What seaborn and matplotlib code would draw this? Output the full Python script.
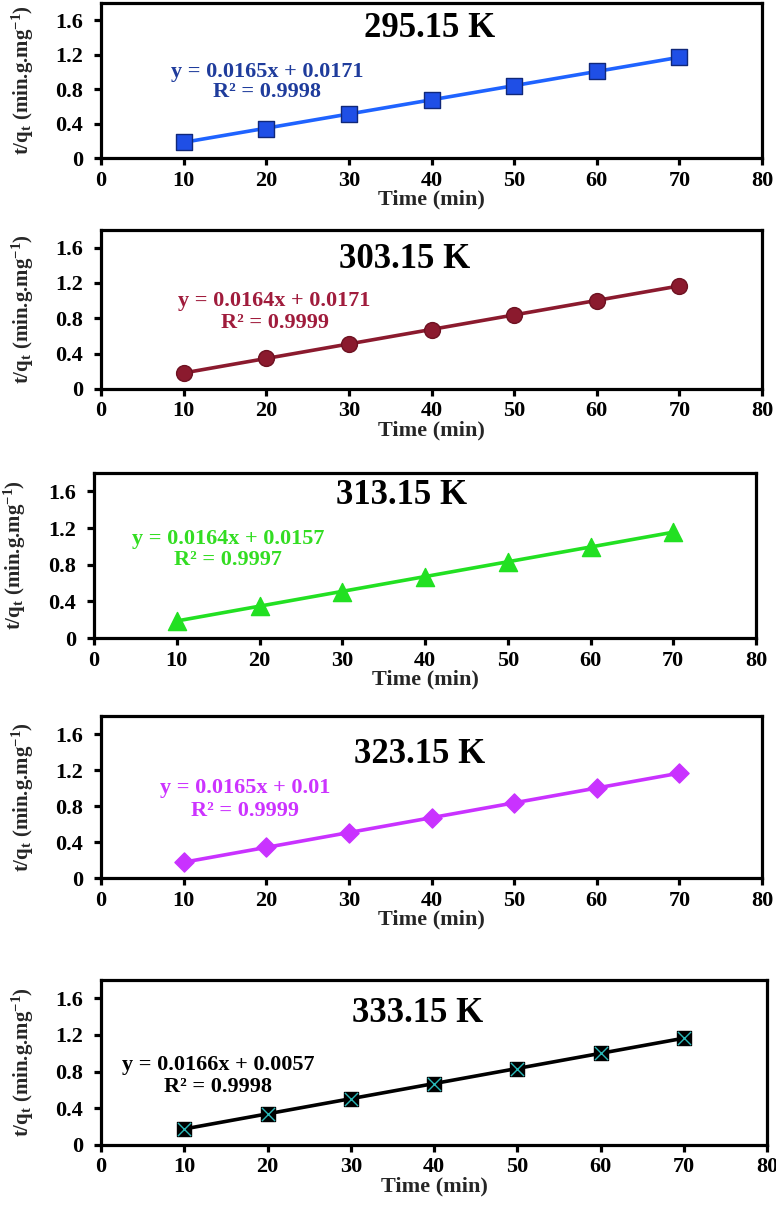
import numpy as np
import pandas as pd
import seaborn as sns
import matplotlib
matplotlib.use("Agg")
import matplotlib.pyplot as plt

# ---- data ----
time_min = [10, 20, 30, 40, 50, 60, 70]
tq_295 = [0.19, 0.34, 0.51, 0.67, 0.84, 1.01, 1.17]
tq_303 = [0.18, 0.35, 0.51, 0.67, 0.84, 1.00, 1.17]
tq_313 = [0.19, 0.35, 0.50, 0.67, 0.83, 0.99, 1.16]
tq_323 = [0.18, 0.34, 0.50, 0.67, 0.83, 1.00, 1.17]
tq_333 = [0.18, 0.34, 0.50, 0.67, 0.83, 1.00, 1.17]
temperatures = ["295.15 K", "303.15 K", "313.15 K", "323.15 K", "333.15 K"]
equations = ["y = 0.0165x + 0.0171", "y = 0.0164x + 0.0171", "y = 0.0164x + 0.0157",
             "y = 0.0165x + 0.01", "y = 0.0166x + 0.0057"]
r2_labels = ["R² = 0.9998", "R² = 0.9999", "R² = 0.9997", "R² = 0.9999", "R² = 0.9998"]
x_ticks = [0, 10, 20, 30, 40, 50, 60, 70, 80]
y_ticks = [0, 0.4, 0.8, 1.2, 1.6]
y_tick_labels = ["0", "0.4", "0.8", "1.2", "1.6"]

series = [tq_295, tq_303, tq_313, tq_323, tq_333]

sns.set_style("ticks")
plt.rcParams["font.family"] = ["Liberation Serif", "DejaVu Serif"]
plt.rcParams["font.weight"] = "bold"
plt.rcParams["mathtext.fontset"] = "custom"
plt.rcParams["mathtext.rm"] = "Liberation Serif:bold"
plt.rcParams["mathtext.bf"] = "Liberation Serif:bold"
plt.rcParams["mathtext.it"] = "Liberation Serif:bold"

line_colors = ["#1f63ff", "#8b1a2e", "#22e022", "#c932ff", "#000000"]
marker_fill = ["#1f4fe6", "#8b1a2e", "#22e022", "#c932ff", "#000000"]
marker_edge = ["#10287a", "#6e1222", "#22e022", "#c932ff", "#000000"]
text_colors = ["#1f3c9c", "#a01c3c", "#33dd22", "#cc33ff", "#000000"]
markers = ["s", "o", "^", "D", "s"]
msizes = [130, 130, 170, 95, 100]

# axes rectangles in pixels: left, right, top, bottom
W, H = 776, 1206
rects = [(101, 762, 3, 158), (101, 762, 230, 389), (94, 756, 473, 638),
         (101, 762, 716, 878), (101, 767, 980, 1145)]
ylabel_right_px = [36, 36, 28, 36, 36]
title_pos = [(39.8, 1.50), (36.7, 1.47), (37.2, 1.55), (38.6, 1.37), (38.0, 1.43)]
eq_pos = [(20.1, 1.00, 0.77), (21.0, 1.00, 0.75), (16.2, 1.08, 0.85),
          (17.4, 1.00, 0.75), (14.1, 0.87, 0.63)]

fig = plt.figure(figsize=(W / 100, H / 100), dpi=100)

for i in range(5):
    l, r, t, b = rects[i]
    ax = fig.add_axes([l / W, 1 - b / H, (r - l) / W, (b - t) / H])
    df = pd.DataFrame({"time": time_min, "tq": series[i]})
    sns.regplot(data=df, x="time", y="tq", ax=ax, scatter=False, ci=None,
                truncate=True, line_kws=dict(color=line_colors[i], lw=2.6, zorder=2))
    sns.scatterplot(data=df, x="time", y="tq", ax=ax, marker=markers[i], s=msizes[i],
                    color=marker_fill[i], edgecolor=marker_edge[i], linewidth=1.0,
                    zorder=3, legend=False)
    if i == 4:
        sns.scatterplot(data=df, x="time", y="tq", ax=ax, marker="x", s=90,
                        color="#2ab8b8", linewidth=1.0, zorder=4, legend=False)
    ax.set_xlim(0, 80)
    ax.set_ylim(0, 1.8)
    ax.set_xticks(x_ticks)
    ax.set_xticklabels([str(v) for v in x_ticks])
    ax.set_yticks(y_ticks)
    ax.set_yticklabels(y_tick_labels)
    for sp in ax.spines.values():
        sp.set_visible(True)
        sp.set_linewidth(2.3)
        sp.set_color("black")
    ax.tick_params(axis="both", direction="out", length=5, width=2.3,
                   labelsize=16, colors="black")
    ax.tick_params(axis="x", pad=4)
    ax.tick_params(axis="y", pad=8)
    for lab in ax.get_xticklabels() + ax.get_yticklabels():
        lab.set_fontweight("bold")
    ax.set_xlabel("Time (min)", fontsize=16, fontweight="bold", labelpad=-1)
    ax.set_ylabel(r"t/q$_{\mathbf{t}}$ (min.g.mg$^{\mathbf{-1}}$)", fontsize=15,
                  fontweight="bold")
    ax.yaxis.set_label_coords((ylabel_right_px[i] - l) / (r - l), 0.5)
    tx, ty = title_pos[i]
    ax.text(tx, ty, temperatures[i], ha="center", va="center", fontsize=25,
            fontweight="bold", color="black")
    ex, ey1, ey2 = eq_pos[i]
    ax.text(ex, ey1, equations[i], ha="center", va="center", fontsize=16,
            fontweight="bold", color=text_colors[i])
    ax.text(ex, ey2, r2_labels[i], ha="center", va="center", fontsize=16,
            fontweight="bold", color=text_colors[i])

fig.savefig("out.png", dpi=100, facecolor="white")
